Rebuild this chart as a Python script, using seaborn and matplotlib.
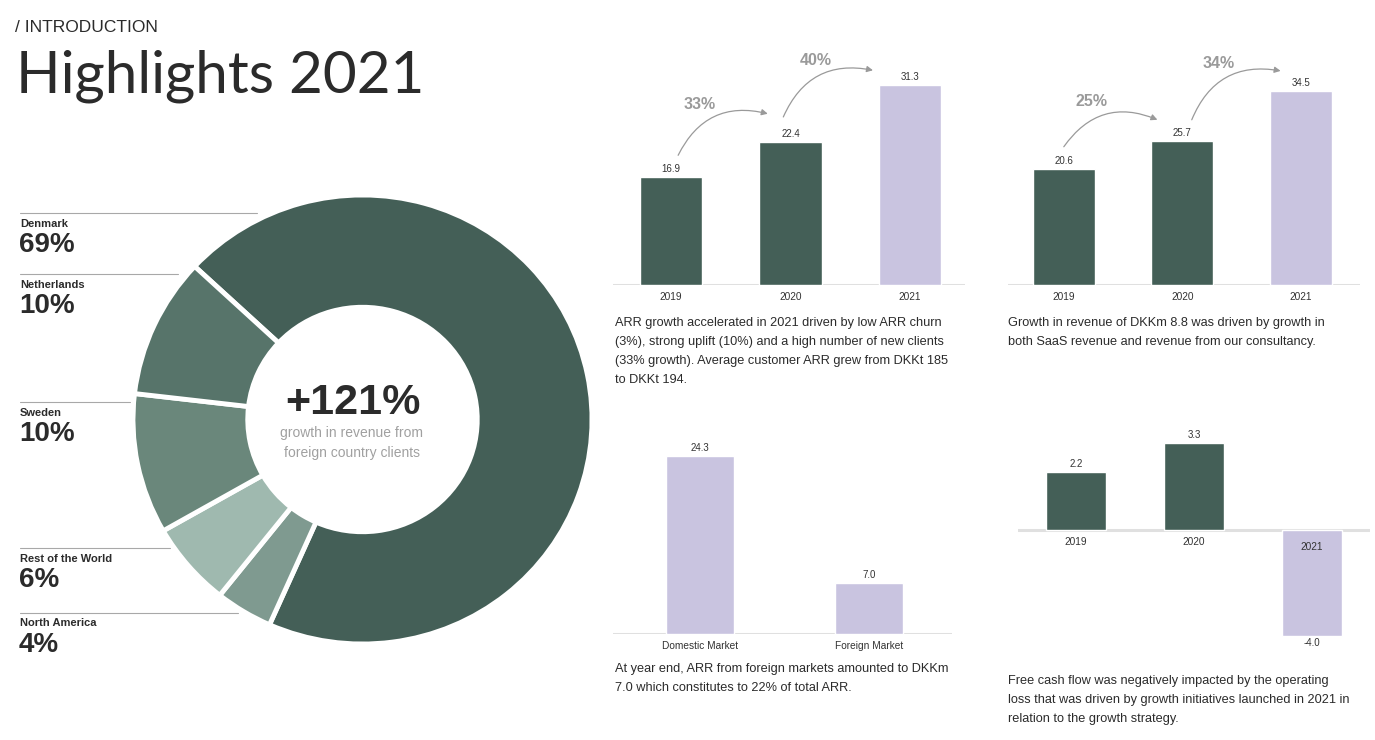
import matplotlib
matplotlib.use("Agg")
import matplotlib.pyplot as plt
import seaborn as sns
import pandas as pd

sns.set_theme(style="white")
plt.rcParams['font.family'] = ['Liberation Sans', 'DejaVu Sans']

# ---------------- data ----------------
regions = ["Denmark", "North America", "Rest of the World", "Sweden", "Netherlands"]
region_share = [69, 4, 6, 10, 10]
label_order = ["Denmark", "Netherlands", "Sweden", "Rest of the World", "North America"]

arr_years = ["2019", "2020", "2021"]
arr_values = [16.9, 22.4, 31.3]
arr_growth = ["33%", "40%"]

rev_years = ["2019", "2020", "2021"]
rev_values = [20.6, 25.7, 34.5]
rev_growth = ["25%", "34%"]

market_cats = ["Domestic Market", "Foreign Market"]
market_values = [24.3, 7.0]

fcf_years = ["2019", "2020", "2021"]
fcf_values = [2.2, 3.3, -4.0]

headline = "+121%"
headline_sub = ["growth in revenue from", "foreign country clients"]

text_arr = ("ARR growth accelerated in 2021 driven by low ARR churn\n"
            "(3%), strong uplift (10%) and a high number of new clients\n"
            "(33% growth). Average customer ARR grew from DKKt 185\n"
            "to DKKt 194.")
text_rev = ("Growth in revenue of DKKm 8.8 was driven by growth in\n"
            "both SaaS revenue and revenue from our consultancy.")
text_mkt = ("At year end, ARR from foreign markets amounted to DKKm\n"
            "7.0 which constitutes to 22% of total ARR.")
text_fcf = ("Free cash flow was negatively impacted by the operating\n"
            "loss that was driven by growth initiatives launched in 2021 in\n"
            "relation to the growth strategy.")

# ---------------- style ----------------
W, H = 1375, 740
DARK = "#445f57"
LAV = "#c9c4e0"
GREY_LINE = "#e0e0e0"
TXT = "#2b2b2b"
region_colors = {"Denmark": "#445f57", "North America": "#7f9a90",
                 "Rest of the World": "#9fb9af", "Sweden": "#6a877b",
                 "Netherlands": "#57746a"}

fig = plt.figure(figsize=(W / 100, H / 100), dpi=100)
fig.patch.set_facecolor("white")


def fx(x):
    return x / W


def fy(y):
    return 1 - y / H


def add_ax(x0, x1, y0, y1):
    return fig.add_axes([fx(x0), fy(y1), (x1 - x0) / W, (y1 - y0) / H])


# ---------------- title ----------------
fig.text(fx(15), fy(27), "/ INTRODUCTION", fontsize=12.5, color=TXT,
         va="center", ha="left")
fig.text(fx(16), fy(76), "Highlights 2021", fontsize=42, color=TXT,
         fontweight="normal", va="center", ha="left",
         family=["Lato", "DejaVu Sans"])

# ---------------- donut ----------------
axd = add_ax(133, 592, 195, 644)
axd.pie(region_share, colors=[region_colors[r] for r in regions],
        startangle=137, counterclock=False, radius=1,
        wedgeprops=dict(width=0.5, edgecolor="white", linewidth=3.5))
axd.set_xlim(-1, 1)
axd.set_ylim(-1, 1)
axd.set_aspect("auto")
axd.axis("off")

fig.text(fx(353), fy(403), headline, fontsize=31, fontweight="bold",
         color=TXT, ha="center", va="center")
fig.text(fx(352), fy(433), headline_sub[0], fontsize=10, color="#a0a0a0",
         ha="center", va="center")
fig.text(fx(352), fy(453), headline_sub[1], fontsize=10, color="#a0a0a0",
         ha="center", va="center")

# labels at left
label_pos = {"Denmark": (213, 257), "Netherlands": (274, 178),
             "Sweden": (402, 130), "Rest of the World": (548, 170),
             "North America": (613, 238)}
share_of = dict(zip(regions, region_share))
for r in label_order:
    yl, xend = label_pos[r]
    fig.add_artist(plt.Line2D([fx(20), fx(xend)], [fy(yl), fy(yl)],
                              color="#a8a8a8", linewidth=0.8))
    fig.text(fx(20), fy(yl + 10.5), r, fontsize=8, fontweight="bold",
             color=TXT, ha="left", va="center")
    fig.text(fx(19), fy(yl + 32), f"{share_of[r]}%", fontsize=20,
             fontweight="bold", color=TXT, ha="left", va="center")


# ---------------- bar helper ----------------
def bar_panel(ax, cats, vals, colors, width, xlim, ylim):
    df = pd.DataFrame({"cat": cats, "val": vals})
    sns.barplot(data=df, x="cat", y="val", hue="cat", palette=colors,
                legend=False, ax=ax, width=width, saturation=1, zorder=2)
    ax.set_xlim(*xlim)
    ax.set_ylim(*ylim)
    ax.axhline(0, color=GREY_LINE, linewidth=2.2, zorder=1)
    for s in ax.spines.values():
        s.set_visible(False)
    ax.set_xlabel("")
    ax.set_ylabel("")
    ax.set_yticks([])
    ax.tick_params(axis="x", length=0, labelsize=7.3, colors="#333333")
    ax.patch.set_alpha(0)


def value_labels(ax, vals, offset_px, fmt="{:.1f}"):
    for i, v in enumerate(vals):
        ax.annotate(fmt.format(v), (i, v), xytext=(0, offset_px if v >= 0 else -offset_px),
                    textcoords="offset points", ha="center",
                    va="bottom" if v >= 0 else "top", fontsize=7, color="#333333")


def growth_arrows(ax, vals, labels, pts, txtpos):
    for (p0, p1), lab, tp in zip(pts, labels, txtpos):
        ax.annotate("", xy=p1, xytext=p0,
                    arrowprops=dict(arrowstyle="-|>", color="#9a9a9a", lw=0.9,
                                    mutation_scale=9,
                                    connectionstyle="arc3,rad=-0.4",
                                    shrinkA=0, shrinkB=0))
        ax.text(tp[0], tp[1], lab, fontsize=11.5, fontweight="bold",
                color="#9a9a9a", ha="center", va="center")


# ARR chart: baseline 285, 6.39 px/unit, bar centres 671 / 790.5 / 910
ax1 = add_ax(613, 965, 285 - 40 * 6.39, 285)
bar_panel(ax1, arr_years, arr_values, [DARK, DARK, LAV], 0.52,
          (-0.485, 2.46), (0, 40))
value_labels(ax1, arr_values, 2)
ax1.tick_params(axis="x", pad=5)
growth_arrows(ax1, arr_values, arr_growth,
              [((0.06, 20.3), (0.81, 26.8)), ((0.94, 26.3), (1.69, 33.6))],
              [(0.24, 28.2), (1.21, 35.1)])

# Revenue chart: baseline 285, 5.62 px/unit, centres 1064 / 1182.5 / 1301.5
ax2 = add_ax(1008, 1360, 285 - 45 * 5.62, 285)
bar_panel(ax2, rev_years, rev_values, [DARK, DARK, LAV], 0.52,
          (-0.471, 2.5), (0, 45))
value_labels(ax2, rev_values, 2)
ax2.tick_params(axis="x", pad=5)
growth_arrows(ax2, rev_values, rev_growth,
              [((0.0, 24.6), (0.79, 29.4)), ((1.08, 29.4), (1.83, 38.1))],
              [(0.23, 32.6), (1.31, 39.5)])

# Market chart: baseline 634, 7.33 px/unit, centres 700 / 869
ax3 = add_ax(613, 952, 634 - 30 * 7.33, 634)
bar_panel(ax3, market_cats, market_values, [LAV, LAV], 0.4,
          (-0.515, 1.49), (0, 30))
value_labels(ax3, market_values, 2)
ax3.tick_params(axis="x", pad=5)

# FCF chart: baseline 530, 26.4 px/unit, centres 1076 / 1194 / 1311
ax4 = add_ax(1018, 1370, 530 - 4.5 * 26.4, 530 + 4.5 * 26.4)
bar_panel(ax4, fcf_years, fcf_values, [DARK, DARK, LAV], 0.51,
          (-0.492, 2.49), (-4.5, 4.5))
ax4.set_xticks([])
value_labels(ax4, fcf_values, 2)
for i, (c, v) in enumerate(zip(fcf_years, fcf_values)):
    ax4.annotate(c, (i, 0), xytext=(0, -5 if v >= 0 else -9),
                 textcoords="offset points", ha="center", va="top",
                 fontsize=7.3, color="#333333", zorder=4)

# ---------------- paragraphs ----------------
para_kw = dict(fontsize=9.2, color=TXT, ha="left", va="top", linespacing=1.78)
fig.text(fx(615), fy(317), text_arr, **para_kw)
fig.text(fx(1008), fy(317), text_rev, **para_kw)
fig.text(fx(615), fy(663), text_mkt, **para_kw)
fig.text(fx(1008), fy(675), text_fcf, **para_kw)

fig.savefig("out.png", dpi=100, facecolor="white")
